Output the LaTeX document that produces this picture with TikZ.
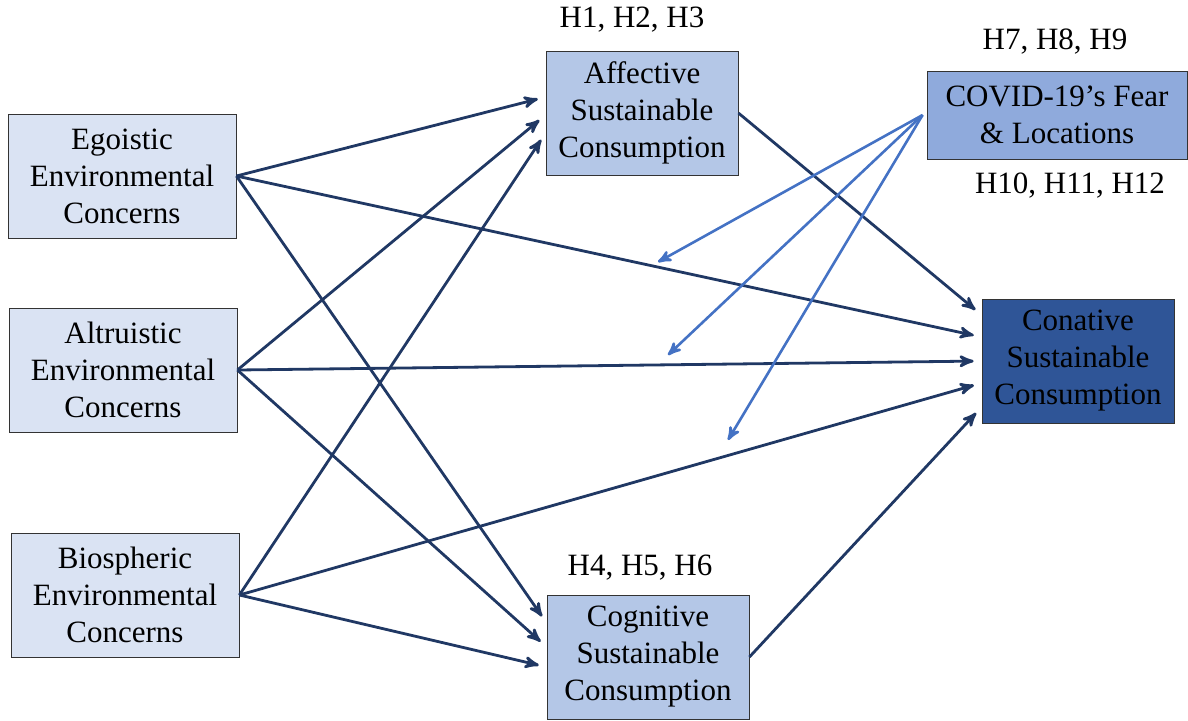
\documentclass[tikz,border=0pt]{standalone}
\usepackage{fontspec}
\setmainfont{Liberation Serif}
\usepackage{tikz}
\usetikzlibrary{arrows,positioning}
\definecolor{egofill}{HTML}{DAE3F3}
\definecolor{midfill}{HTML}{B4C7E7}
\definecolor{covfill}{HTML}{8FAADC}
\definecolor{confill}{HTML}{2F5597}
\definecolor{navy}{HTML}{203864}
\definecolor{lightarrow}{HTML}{4472C4}
\tikzset{
    %Define standard arrow tip
    >=stealth',
    %Define style for boxes
    concern/.style={
           rectangle,
           draw=black!80, thin,
           fill=egofill,
           minimum width=114pt,
           minimum height=62pt,
           align=center,
           font=\fontsize{15.5}{18.5}\selectfont,
           },
    stage/.style={
           concern,
           fill=midfill,
           minimum width=96pt,
           },
    hyp/.style={
           font=\fontsize{15.5}{18.5}\selectfont,
           },
    % Define arrow styles
    pil/.style={
           draw=navy,
           line width=1.4pt,
           shorten >=4pt,},
    mod/.style={
           draw=lightarrow,
           line width=1.3pt,}
}
\begin{document}
\begin{tikzpicture}[->,x=0.5pt,y=-0.5pt]
\useasboundingbox (0,0) rectangle (1188,720);
 %nodes
\node[concern](ego) at (122,176){Egoistic\\Environmental\\Concerns};
\node[concern](alt) at (123,370){Altruistic\\Environmental\\Concerns};
\node[concern](bio) at (125,595){Biospheric\\Environmental\\Concerns};
\node[stage](aff) at (642,113){Affective\\Sustainable\\Consumption};
\node[stage, minimum width=101pt](cog) at (648,657){Cognitive\\Sustainable\\Consumption};
\node[concern, fill=covfill, minimum width=130pt, minimum height=44pt](cov) at (1057,115){COVID-19’s Fear\\\& Locations};
\node[concern, fill=confill, minimum width=96pt](con) at (1078,361){Conative\\Sustainable\\Consumption};
 %labels
\node[hyp](h1) at (632,20){H1, H2, H3};
\node[hyp](h4) at (640,568){H4, H5, H6};
\node[hyp](h7) at (1055,42){H7, H8, H9};
\node[hyp](h10) at (1070,186){H10, H11, H12};
\coordinate (m1) at (658,262);
\coordinate (m2) at (668,355);
\coordinate (m3) at (728,440);
 %paths
\path[every edge/.append style=pil]
    (ego.east) edge ([yshift=8pt]aff.west)
    (alt.east) edge ([yshift=-1pt]aff.west)
    (bio.east) edge ([yshift=-10pt]aff.west)
    (ego.east) edge ([yshift=17pt]cog.west)
    (alt.east) edge ([yshift=5pt]cog.west)
    (bio.east) edge ([yshift=-5pt]cog.west)
    (aff.east) edge ([yshift=23pt]con.west)
    (ego.east) edge ([yshift=12pt]con.west)
    (alt.east) edge ([yshift=0pt]con.west)
    (bio.east) edge ([yshift=-11pt]con.west)
    (cog.east) edge ([yshift=-23pt]con.west);
\path[every edge/.append style=mod]
    ([xshift=-2pt]cov.west) edge (m1) edge (m2) edge (m3);
\end{tikzpicture}
\end{document}
